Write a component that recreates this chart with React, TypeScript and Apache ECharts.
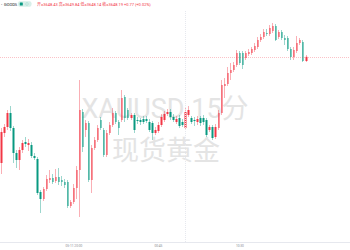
import React, { useEffect, useRef } from "react";
import * as echarts from "echarts";

// [open, close, low, high]
const ohlc: number[][] = [
  [3621.65, 3629.4, 3618.9, 3630.4],
  [3629.15, 3630.65, 3628.15, 3631.4],
  [3630.65, 3634.15, 3629.9, 3634.9],
  [3634.15, 3630.4, 3629.65, 3635.9],
  [3630.4, 3624.15, 3621.65, 3630.9],
  [3624.15, 3622.4, 3620.4, 3624.9],
  [3622.4, 3624.9, 3619.9, 3625.65],
  [3624.9, 3626.65, 3624.15, 3627.4],
  [3626.9, 3626.4, 3625.65, 3628.15],
  [3626.15, 3626.65, 3624.65, 3627.65],
  [3626.15, 3623.4, 3622.9, 3626.9],
  [3623.4, 3622.9, 3622.4, 3624.15],
  [3622.65, 3614.15, 3613.65, 3623.15],
  [3614.4, 3612.65, 3609.15, 3614.9],
  [3612.65, 3615.15, 3612.15, 3615.65],
  [3615.15, 3617.65, 3614.65, 3618.65],
  [3617.4, 3617.9, 3616.65, 3619.9],
  [3617.9, 3616.9, 3616.4, 3618.9],
  [3617.15, 3618.15, 3616.65, 3620.15],
  [3618.15, 3616.9, 3616.15, 3620.4],
  [3617.4, 3616.9, 3615.9, 3618.4],
  [3616.9, 3616.15, 3615.4, 3617.65],
  [3616.9, 3610.9, 3610.4, 3617.4],
  [3610.9, 3611.9, 3610.4, 3612.4],
  [3611.9, 3615.4, 3611.4, 3616.4],
  [3615.4, 3619.9, 3612.65, 3620.9],
  [3619.9, 3634.9, 3608.15, 3642.4],
  [3634.4, 3625.65, 3624.4, 3635.15],
  [3629.9, 3631.65, 3628.15, 3632.4],
  [3631.65, 3617.4, 3616.9, 3632.15],
  [3617.4, 3625.4, 3614.15, 3626.15],
  [3625.4, 3627.4, 3624.9, 3628.15],
  [3627.4, 3630.4, 3626.9, 3631.15],
  [3632.4, 3630.4, 3629.9, 3633.15],
  [3629.9, 3623.65, 3623.15, 3630.4],
  [3623.65, 3629.15, 3623.15, 3629.9],
  [3629.15, 3631.15, 3628.65, 3631.9],
  [3631.15, 3634.15, 3630.65, 3635.4],
  [3634.15, 3631.9, 3631.4, 3634.65],
  [3631.9, 3630.4, 3628.65, 3632.4],
  [3632.4, 3637.9, 3631.9, 3639.9],
  [3638.15, 3632.9, 3631.9, 3638.65],
  [3634.9, 3632.9, 3632.4, 3635.4],
  [3632.9, 3633.65, 3632.4, 3634.15],
  [3633.65, 3629.9, 3629.15, 3634.15],
  [3632.4, 3632.15, 3631.4, 3633.15],
  [3632.4, 3631.9, 3631.15, 3632.9],
  [3632.65, 3631.9, 3631.4, 3633.4],
  [3632.65, 3632.15, 3631.65, 3633.4],
  [3631.9, 3629.9, 3629.4, 3632.65],
  [3631.65, 3629.15, 3627.4, 3632.15],
  [3629.15, 3629.9, 3628.65, 3630.65],
  [3629.65, 3631.15, 3629.15, 3631.9],
  [3631.15, 3633.15, 3630.65, 3633.9],
  [3632.4, 3633.9, 3631.9, 3634.65],
  [3633.9, 3634.4, 3633.4, 3635.15],
  [3634.4, 3633.15, 3632.4, 3635.15],
  [3633.15, 3632.4, 3631.9, 3633.9],
  [3631.9, 3632.65, 3631.4, 3633.4],
  [3632.9, 3630.9, 3630.4, 3633.65],
  [3631.9, 3631.15, 3630.65, 3632.65],
  [3630.4, 3634.4, 3629.9, 3635.4],
  [3633.65, 3634.9, 3633.15, 3635.9],
  [3632.9, 3631.9, 3631.4, 3633.4],
  [3632.4, 3632.15, 3630.9, 3633.15],
  [3631.9, 3632.65, 3631.15, 3633.4],
  [3632.9, 3631.65, 3630.9, 3633.4],
  [3632.9, 3631.9, 3631.15, 3633.65],
  [3632.4, 3628.65, 3628.15, 3632.9],
  [3629.9, 3630.65, 3629.4, 3631.15],
  [3630.65, 3627.9, 3627.4, 3631.15],
  [3628.15, 3630.65, 3627.65, 3631.4],
  [3630.4, 3634.15, 3629.9, 3634.9],
  [3634.15, 3641.15, 3633.65, 3642.4],
  [3640.9, 3641.4, 3637.9, 3642.9],
  [3641.4, 3644.15, 3640.9, 3645.65],
  [3644.15, 3644.9, 3642.4, 3646.65],
  [3644.9, 3646.15, 3644.4, 3646.9],
  [3646.15, 3649.15, 3645.65, 3649.9],
  [3649.15, 3646.65, 3646.15, 3649.65],
  [3649.15, 3646.15, 3645.15, 3649.65],
  [3647.9, 3649.15, 3647.4, 3649.65],
  [3648.9, 3649.4, 3648.4, 3650.15],
  [3649.15, 3650.15, 3648.65, 3650.65],
  [3649.9, 3650.9, 3649.4, 3651.65],
  [3650.65, 3652.4, 3650.15, 3653.15],
  [3652.4, 3653.15, 3651.9, 3653.9],
  [3653.15, 3654.4, 3652.65, 3655.15],
  [3654.15, 3653.9, 3653.4, 3655.15],
  [3653.9, 3655.4, 3653.4, 3656.15],
  [3654.65, 3655.9, 3654.15, 3656.65],
  [3655.9, 3652.4, 3652.15, 3656.4],
  [3653.15, 3654.4, 3652.65, 3654.9],
  [3654.4, 3652.9, 3652.4, 3654.9],
  [3652.9, 3652.4, 3651.15, 3653.65],
  [3652.9, 3650.15, 3649.65, 3653.4],
  [3650.15, 3648.15, 3647.4, 3650.65],
  [3648.15, 3649.9, 3647.4, 3650.65],
  [3649.65, 3651.65, 3649.15, 3653.4],
  [3651.65, 3652.4, 3651.15, 3652.9],
  [3651.9, 3647.15, 3646.9, 3652.4],
  [3647.15, 3648.19, 3646.9, 3648.65],
];

const lastClose = 3648.19;
const emptySlots = 14;
const tickIndex = [24, 52, 79];
const tickText = ["05-11 20:00", "00:45", "10:30"];
const sessionBreakIndex = 61;
const symbolName = "GOODS";
const quoteText = "开=3648.43 高=3649.84 低=3648.14 收=3648.19 +0.77 (+0.02%)";
const watermarkLine1 = "XAUUSD 15分";
const watermarkLine2 = "现货黄金";

const UP = "#f23645";
const DOWN = "#089981";

export default function App() {
  const ref = useRef<HTMLDivElement>(null);
  useEffect(() => {
    if (!ref.current) return;
    const chart = echarts.init(ref.current, null, { renderer: "svg" });
    const categories = Array.from({ length: ohlc.length + emptySlots }, (_, i) => String(i));
    const bodies = ohlc.map(([o, c]) => [o, c, Math.min(o, c), Math.max(o, c)]);
    const font = "Roboto, 'Noto Sans CJK SC', sans-serif";
    chart.setOption({
      animation: false,
      grid: { left: 0, right: 0, top: 10, bottom: 8 },
      xAxis: {
        type: "category",
        data: categories,
        boundaryGap: true,
        axisLine: { show: true, lineStyle: { color: "#e6e8ee", width: 1 } },
        axisTick: { show: false },
        splitLine: { show: false },
        axisLabel: {
          interval: (i: number) => tickIndex.includes(i),
          formatter: (_v: string, i: number) => {
            const k = tickIndex.indexOf(i);
            return k >= 0 ? tickText[k] : "";
          },
          fontSize: 3.2,
          color: "#8a8d96",
          margin: 2.5,
          fontFamily: font,
        },
      },
      yAxis: { type: "value", min: 3601.9, max: 3659.9, show: false },
      series: [
        {
          type: "candlestick",
          data: ohlc,
          barWidth: 1,
          itemStyle: {
            color: "rgba(242,54,69,0.4)",
            color0: "rgba(8,153,129,0.4)",
            borderColor: "rgba(242,54,69,0.4)",
            borderColor0: "rgba(8,153,129,0.4)",
            borderWidth: 1,
          },
          markLine: {
            silent: true,
            symbol: "none",
            label: { show: false },
            data: [
              { yAxis: lastClose, lineStyle: { color: "rgba(242,54,69,0.3)", type: "dotted", width: 1 } },
              { xAxis: sessionBreakIndex, lineStyle: { color: "#e6e8ee", type: "dotted", width: 1 } },
            ],
          },
          z: 3,
        },
        {
          type: "candlestick",
          data: bodies,
          barWidth: 2,
          itemStyle: {
            color: UP,
            color0: DOWN,
            borderColor: UP,
            borderColor0: DOWN,
            borderWidth: 0,
          },
          z: 4,
        },
      ],
      graphic: [
        { type: "text", x: 1, y: 4, z: 10, style: { text: "•", fontSize: 4, fill: "#787b86", verticalAlign: "middle", textVerticalAlign: "middle", fontFamily: font } },
        { type: "text", x: 4, y: 4, z: 10, style: { text: symbolName, fontSize: 4, fill: "#131722", verticalAlign: "middle", textVerticalAlign: "middle", fontFamily: font } },
        { type: "rect", z: 10, shape: { x: 18, y: 1.2, width: 13.5, height: 5.6, r: 2 }, style: { fill: "#d7efe9" } },
        { type: "rect", z: 11, shape: { x: 19.8, y: 2.5, width: 3, height: 3, r: 0.5 }, style: { fill: DOWN } },
        { type: "circle", z: 11, shape: { cx: 27, cy: 4, r: 1.3 }, style: { fill: "none", stroke: "#9fd8cc", lineWidth: 0.6 } },
        { type: "text", x: 37, y: 4, z: 10, style: { text: quoteText, fontSize: 4, fill: UP, verticalAlign: "middle", textVerticalAlign: "middle", fontFamily: font } },
        { type: "text", x: 165, y: 109, z: 0, style: { text: watermarkLine1, fontSize: 27, fill: "#e4e4e4", align: "center", textAlign: "center", verticalAlign: "middle", textVerticalAlign: "middle", fontFamily: font } },
        { type: "text", x: 166, y: 151, z: 0, style: { text: watermarkLine2, fontSize: 27, fill: "#e4e4e4", align: "center", textAlign: "center", verticalAlign: "middle", textVerticalAlign: "middle", fontFamily: font } },
      ],
    });
    return () => chart.dispose();
  }, []);
  return (
    <div
      ref={ref}
      style={{ position: "fixed", left: 0, top: 0, width: 350, height: 250, background: "#ffffff" }}
    />
  );
}
